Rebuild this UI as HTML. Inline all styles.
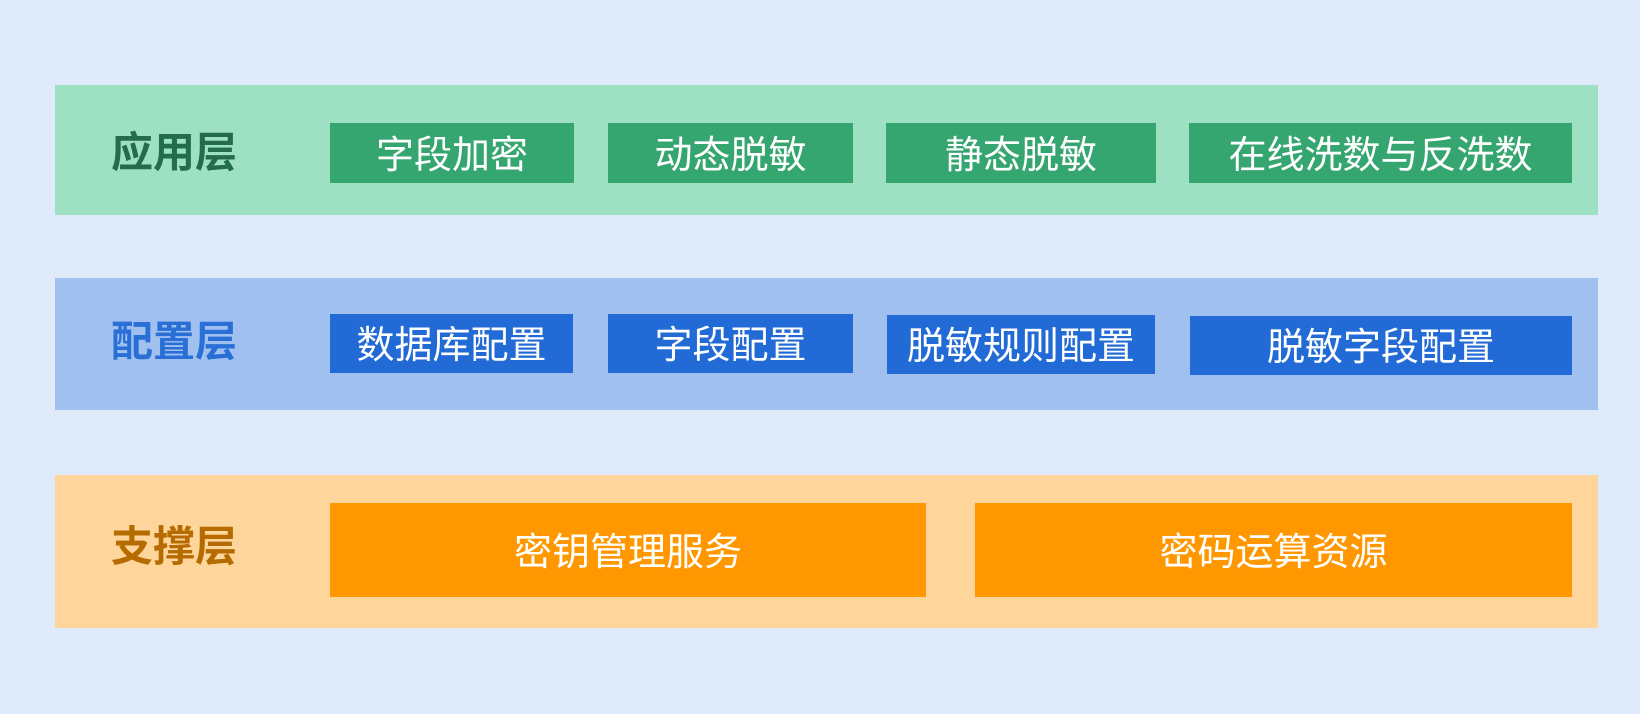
<!DOCTYPE html>
<html><head><meta charset="utf-8"><style>
body{margin:0;width:1640px;height:714px;background:#dfeafa;position:relative;overflow:hidden;font-family:"Liberation Sans","Noto Sans CJK SC",sans-serif}
div{position:absolute;box-sizing:border-box}
.band{left:55px;width:1543px}
.lab{font-weight:bold;font-size:42px;line-height:1;left:111px;width:140px;text-align:left;letter-spacing:0}
.b{color:#fff;font-size:38px;display:flex;align-items:center;justify-content:center;letter-spacing:0;padding-bottom:4px}
.g{background:#35a66f}.u{background:#226bd6}.o{background:#ff9800}
</style></head><body>
<div class="band" style="top:85px;height:130px;background:#9de0c2"></div>
<div class="lab" style="top:132px;color:#236d4b">应用层</div>
<div class="b g" style="left:330px;width:244px;top:123px;height:60px">字段加密</div>
<div class="b g" style="left:608px;width:245px;top:123px;height:60px">动态脱敏</div>
<div class="b g" style="left:886px;width:270px;top:123px;height:60px">静态脱敏</div>
<div class="b g" style="left:1189px;width:383px;top:123px;height:60px">在线洗数与反洗数</div>

<div class="band" style="top:278px;height:132px;background:#a0c0f0"></div>
<div class="lab" style="top:321px;color:#2a6fd6">配置层</div>
<div class="b u" style="left:330px;width:243px;top:314px;height:59px">数据库配置</div>
<div class="b u" style="left:608px;width:245px;top:314px;height:59px">字段配置</div>
<div class="b u" style="left:887px;width:268px;top:315px;height:59px">脱敏规则配置</div>
<div class="b u" style="left:1190px;width:382px;top:316px;height:59px">脱敏字段配置</div>

<div class="band" style="top:475px;height:153px;background:#fed59a"></div>
<div class="lab" style="top:526px;color:#b56b00">支撑层</div>
<div class="b o" style="left:330px;width:596px;top:503px;height:94px">密钥管理服务</div>
<div class="b o" style="left:975px;width:597px;top:503px;height:94px">密码运算资源</div>
</body></html>
